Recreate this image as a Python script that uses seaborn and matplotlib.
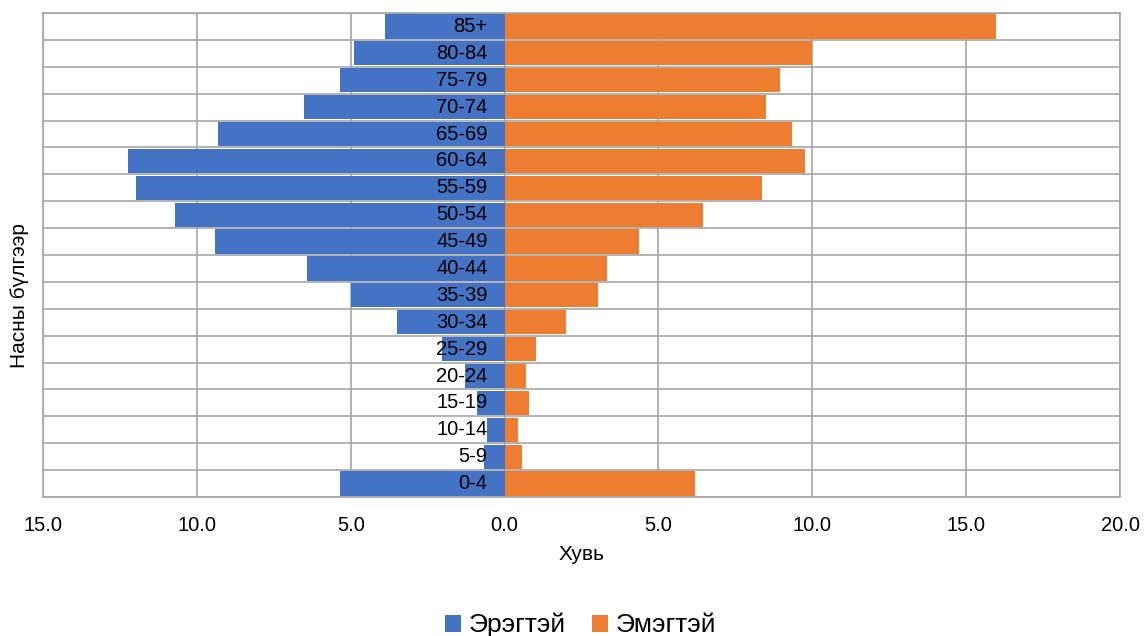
import numpy as np
import seaborn as sns
import matplotlib
matplotlib.use("Agg")
import matplotlib.pyplot as plt

age_groups = ["85+", "80-84", "75-79", "70-74", "65-69", "60-64", "55-59", "50-54",
              "45-49", "40-44", "35-39", "30-34", "25-29", "20-24", "15-19", "10-14",
              "5-9", "0-4"]
male = [3.90, 4.88, 5.35, 6.52, 9.31, 12.24, 11.99, 10.70, 9.40, 6.41, 4.98, 3.48,
        2.02, 1.27, 0.88, 0.58, 0.66, 5.35]
female = [15.97, 10.0, 8.95, 8.51, 9.33, 9.77, 8.35, 6.45, 4.37, 3.33, 3.04, 2.01,
          1.01, 0.71, 0.81, 0.44, 0.56, 6.20]
x_ticks = [-15, -10, -5, 0, 5, 10, 15, 20]

blue = "#4472C4"
orange = "#ED7D31"
grid_c = "#A6A6A6"

sns.set_style("white")
plt.rcParams["font.family"] = ["Liberation Sans", "DejaVu Sans"]
plt.rcParams["text.color"] = "black"
plt.rcParams["xtick.color"] = "black"
plt.rcParams["axes.labelcolor"] = "black"

fig = plt.figure(figsize=(11.45, 6.36), dpi=100)
ax = fig.add_axes([43 / 1145, 1 - 497 / 636, 1077 / 1145, 484 / 636])

sns.barplot(x=-np.array(male), y=age_groups, color=blue, width=0.9,
            linewidth=0, saturation=1, label="Эрэгтэй", ax=ax)
sns.barplot(x=female, y=age_groups, color=orange, width=0.9,
            linewidth=0, saturation=1, label="Эмэгтэй", ax=ax)
for p in ax.patches:
    p.set_zorder(3)

ax.set_xlim(-15, 20)
ax.set_ylim(len(age_groups) - 0.5, -0.5)
ax.set_xticks(x_ticks)
ax.set_xticklabels([f"{abs(v):.1f}" for v in x_ticks], fontsize=14.5)
ax.tick_params(axis="x", length=5, color=grid_c, labelcolor="black", pad=9)

# age labels sit next to the zero line
ax.set_yticks([])
ax.set_ylabel("")
for i, g in enumerate(age_groups):
    ax.text(-0.55, i, g, ha="right", va="center", fontsize=14.5, color="black", zorder=4)

ax.set_yticks(np.arange(-0.5, len(age_groups)), minor=True)
ax.tick_params(axis="y", which="minor", length=0)
ax.grid(axis="x", which="major", color=grid_c, lw=1.2)
ax.grid(axis="y", which="minor", color=grid_c, lw=1.2)
ax.set_axisbelow(True)
for s in ax.spines.values():
    s.set_color(grid_c)
    s.set_linewidth(1.2)

ax.set_xlabel("Хувь", fontsize=15, color="black")
ax.xaxis.set_label_coords(0.5, -0.1)
fig.text(20 / 1145, 1 - 296 / 636, "Насны бүлгээр", rotation=90,
         ha="center", va="center", fontsize=15, color="black")

if ax.legend_:
    ax.legend_.remove()
handles, labels = ax.get_legend_handles_labels()
fig.legend(handles, labels, loc="center", bbox_to_anchor=(0.507, 0.017), ncol=2,
           frameon=False, fontsize=19, handlelength=0.6, handleheight=0.6,
           handletextpad=0.3, columnspacing=1.0, labelcolor="black")

fig.savefig("out.png", dpi=100)
